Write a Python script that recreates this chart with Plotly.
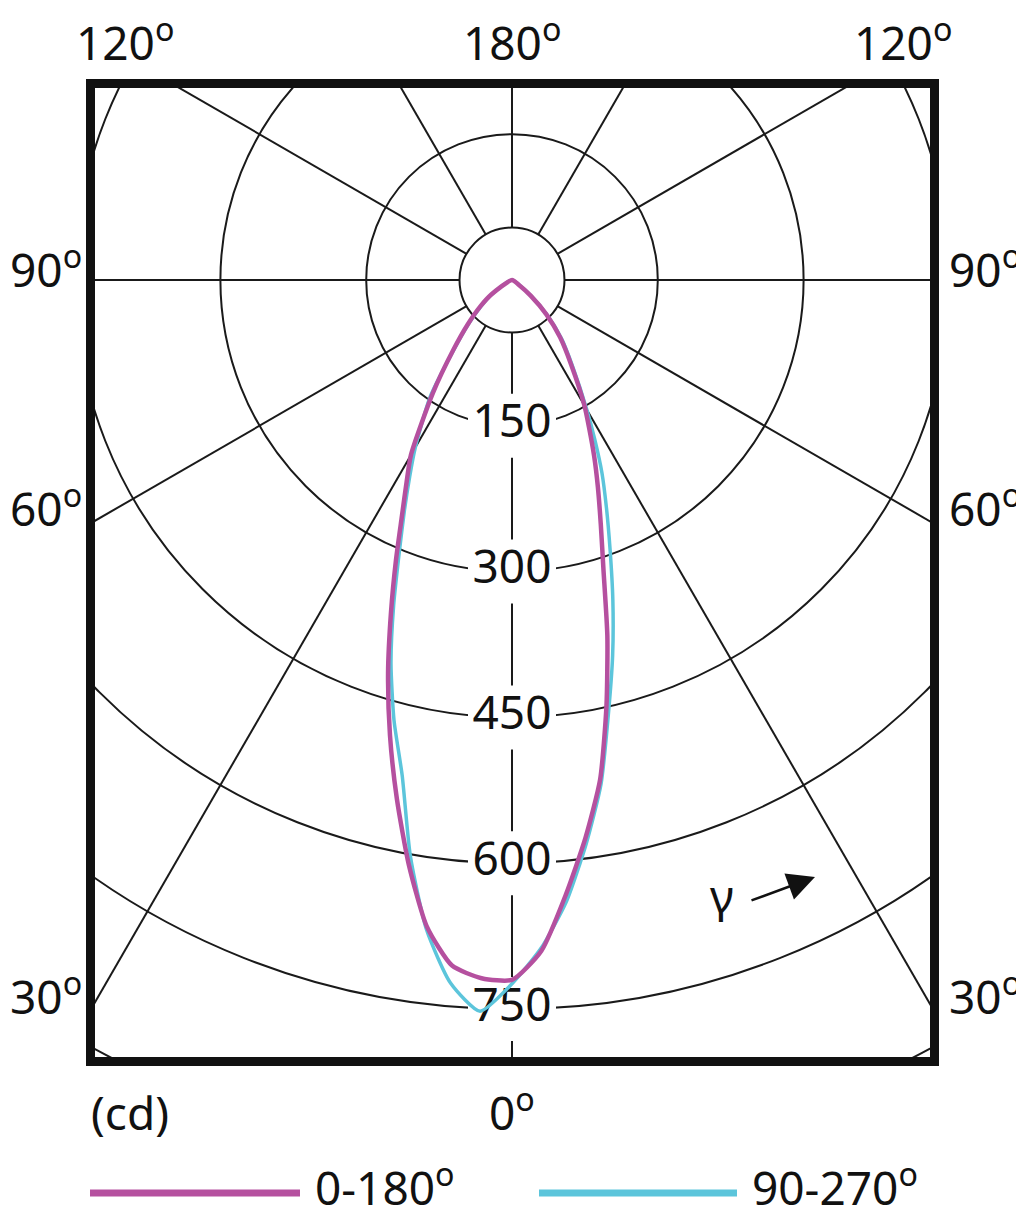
import numpy as np
import plotly.graph_objects as go

# **** Data (candela)
gamma = [0, 2.5, 5, 7.5, 10, 12.5, 15, 17.5, 20, 22.5, 25, 27.5, 30, 35, 40, 45, 50, 55, 60]

# plane 0-180 (purple): right half C0, left half C180
c0_cd = [720, 691, 635, 579, 522, 449, 379, 313, 267, 231, 200, 172, 149, 106, 77, 50, 25, 8, 0]
c180_cd = [720, 719, 708, 671, 611, 547, 485, 424, 364, 312, 268, 235, 208, 142, 94, 64, 43, 26, 0]

# plane 90-270 (cyan): right half C90, left half C270
c90_cd = [724, 688, 642, 585, 527, 458, 400, 345, 295, 254, 219, 184, 154, 109, 80, 52, 27, 10, 0]
c270_cd = [724, 753, 726, 674, 602, 522, 469, 414, 356, 303, 262, 228, 199, 147, 92, 62, 41, 25, 0]

ring_values = [150, 300, 450, 600, 750]
ring_labels = ["150", "300", "450", "600", "750"]
inner_ring = 54
spoke_angles = list(range(0, 360, 30))

# **** Geometry (page pixels)
page_offset = 8  # body margin of the html page
px_per_cd = 0.972
center_px = (512, 280)
plot_left, plot_right, plot_top, plot_bottom = 95, 930, 88, 1057
page_w, page_h = 1024, 1221
fig_w, fig_h = page_w - page_offset, page_h - page_offset

x_range = [(plot_left - center_px[0]) / px_per_cd, (plot_right - center_px[0]) / px_per_cd]
y_range = [-(plot_bottom - center_px[1]) / px_per_cd, (center_px[1] - plot_top) / px_per_cd]

font_family = "Noto Sans"
purple = "#b5509f"
cyan = "#5cc5db"


def paper(px, py):
    return (px - plot_left) / (plot_right - plot_left), (plot_bottom - py) / (plot_bottom - plot_top)


def to_xy(left_cd, right_cd):
    g = np.radians(gamma)
    left = np.array(left_cd, dtype=float)
    right = np.array(right_cd, dtype=float)
    xs = np.concatenate([-left[::-1] * np.sin(g[::-1]), right[1:] * np.sin(g[1:])])
    ys = np.concatenate([-left[::-1] * np.cos(g[::-1]), -right[1:] * np.cos(g[1:])])
    return xs, ys


fig = go.Figure()

shapes = []
# rings
for r in [inner_ring] + ring_values + [900]:
    shapes.append(dict(type="circle", xref="x", yref="y", x0=-r, x1=r, y0=-r, y1=r,
                       line=dict(color="#1a1a1a", width=2), layer="below"))
# spokes
for a in spoke_angles:
    t = np.radians(a)
    shapes.append(dict(type="line", xref="x", yref="y",
                       x0=inner_ring * np.sin(t), y0=-inner_ring * np.cos(t),
                       x1=1500 * np.sin(t), y1=-1500 * np.cos(t),
                       line=dict(color="#1a1a1a", width=2), layer="below"))
# white masks under the ring labels
mask_hw = 44 / px_per_cd
mask_hh = 32 / px_per_cd
for r in ring_values:
    shapes.append(dict(type="rect", xref="x", yref="y", x0=-mask_hw, x1=mask_hw,
                       y0=-r - mask_hh, y1=-r + mask_hh,
                       line=dict(width=0), fillcolor="white", layer="below"))

# legend lines
lx0, ly = paper(90, 1193)
lx1, _ = paper(300, 1193)
shapes.append(dict(type="line", xref="paper", yref="paper", x0=lx0, x1=lx1, y0=ly, y1=ly,
                   line=dict(color=purple, width=7)))
lx0, ly = paper(539, 1193)
lx1, _ = paper(737, 1193)
shapes.append(dict(type="line", xref="paper", yref="paper", x0=lx0, x1=lx1, y0=ly, y1=ly,
                   line=dict(color=cyan, width=7)))

# ring labels
fig.add_trace(go.Scatter(
    x=[0] * len(ring_values),
    y=[-v for v in ring_values],
    text=ring_labels,
    mode="text",
    textposition="middle center",
    textfont=dict(family=font_family, size=46, color="#111111"),
    hoverinfo="skip"
))

# curves
xs, ys = to_xy(c270_cd, c90_cd)
fig.add_trace(go.Scatter(x=xs, y=ys, mode="lines", name="90-270",
                         line=dict(color=cyan, width=3.5, shape="spline", smoothing=0.6)))
xs, ys = to_xy(c180_cd, c0_cd)
fig.add_trace(go.Scatter(x=xs, y=ys, mode="lines", name="0-180",
                         line=dict(color=purple, width=4.5, shape="spline", smoothing=0.6)))

annotations = []
outer_labels = [
    ("120<sup>o</sup>", 125, 40, "center"),
    ("180<sup>o</sup>", 512, 40, "center"),
    ("120<sup>o</sup>", 903, 40, "center"),
    ("90<sup>o</sup>", page_offset, 267, "left"),
    ("90<sup>o</sup>", 985, 267, "center"),
    ("60<sup>o</sup>", page_offset, 506, "left"),
    ("60<sup>o</sup>", 985, 506, "center"),
    ("30<sup>o</sup>", page_offset, 994, "left"),
    ("30<sup>o</sup>", 985, 994, "center"),
    ("(cd)", 130, 1112, "center"),
    ("0<sup>o</sup>", 512, 1110, "center"),
    ("0-180<sup>o</sup>", 313, 1185, "left"),
    ("90-270<sup>o</sup>", 750, 1185, "left"),
    ("γ", 722, 895, "center"),
]
for text, px, py, anchor in outer_labels:
    ax_, ay_ = paper(px, py)
    annotations.append(dict(text=text, x=ax_, y=ay_, xref="paper", yref="paper",
                            xanchor=anchor, yanchor="middle", showarrow=False,
                            font=dict(family=font_family, size=46, color="#111111")))

# gamma direction arrow
tip_x, tip_y = paper(815, 877)
annotations.append(dict(text="", x=tip_x, y=tip_y, xref="paper", yref="paper",
                        ax=-65, ay=24, showarrow=True, arrowhead=2, arrowsize=2.2,
                        arrowwidth=2.5, arrowcolor="#111111"))

fig.update_layout(
    width=fig_w,
    height=fig_h,
    margin=dict(l=plot_left - page_offset, r=page_w - plot_right,
                t=plot_top - page_offset, b=page_h - plot_bottom),
    paper_bgcolor="white",
    plot_bgcolor="white",
    showlegend=False,
    shapes=shapes,
    annotations=annotations,
)
fig.update_xaxes(range=x_range, showgrid=False, zeroline=False, showticklabels=False, ticks="",
                 showline=True, mirror=True, linewidth=9, linecolor="#111111", fixedrange=True)
fig.update_yaxes(range=y_range, showgrid=False, zeroline=False, showticklabels=False, ticks="",
                 showline=True, mirror=True, linewidth=9, linecolor="#111111", fixedrange=True)

fig.write_html("out.html")
